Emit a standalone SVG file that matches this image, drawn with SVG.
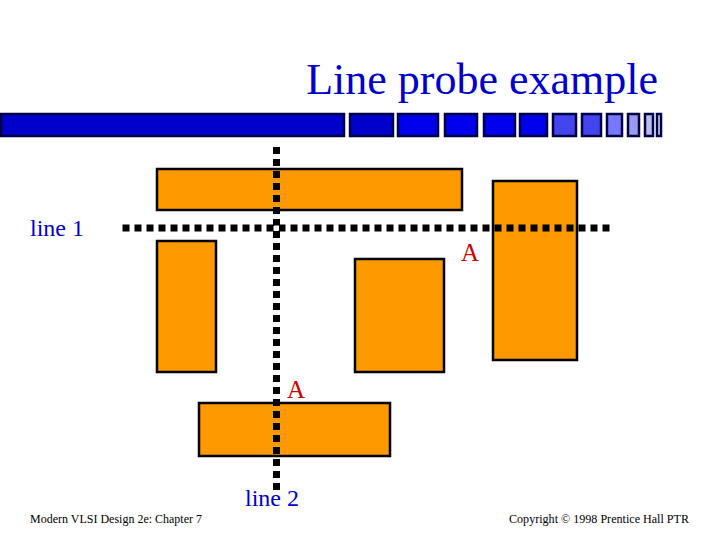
<svg xmlns="http://www.w3.org/2000/svg" width="720" height="540" viewBox="0 0 720 540">
<style>
text{font-family:"Liberation Serif","Times New Roman",serif}
.b{stroke:#000044;stroke-width:2.500}
.d{fill:#0000cc}.e{fill:#0000ee}.f{fill:#4444ee}.g{fill:#7777ff}.h{fill:#9999ee}.i{fill:#bbbbee}.j{fill:#ddddee}
.o{fill:#ff9900;stroke:#000;stroke-width:2.500}
.p{fill:none;stroke:#000;stroke-width:7;stroke-dasharray:7 5}
.blue{fill:#0000cc}.red{fill:#cc0000}
.s{font-size:12px;fill:#000}
</style>
<rect width="720" height="540" fill="#fff"/>
<text x="658" y="94" text-anchor="end" font-size="44" class="blue" id="title">Line probe example</text>
<g id="bar">
<rect class="b d" x="1" y="114" width="343" height="22"/>
<rect class="b d" x="350" y="114" width="43" height="22"/>
<rect class="b e" x="398" y="114" width="40" height="22"/>
<rect class="b e" x="445" y="114" width="32" height="22"/>
<rect class="b e" x="484" y="114" width="31" height="22"/>
<rect class="b e" x="520" y="114" width="27" height="22"/>
<rect class="b f" x="553" y="114" width="23" height="22"/>
<rect class="b f" x="582" y="114" width="19" height="22"/>
<rect class="b g" x="607" y="114" width="15" height="22"/>
<rect class="b h" x="628" y="114" width="11" height="22"/>
<rect class="b i" x="645" y="114" width="8" height="22"/>
<rect class="b j" x="657" y="114" width="4" height="22"/>
</g>
<g id="rect-top"><rect class="o" x="157" y="169" width="305" height="41"/></g>
<g id="rect-left"><rect class="o" x="157" y="241" width="59" height="131"/></g>
<g id="rect-middle"><rect class="o" x="355" y="259" width="89" height="113"/></g>
<g id="rect-right"><rect class="o" x="493" y="181" width="84" height="179"/></g>
<g id="rect-bottom"><rect class="o" x="199" y="403" width="191" height="53"/></g>
<g id="connectors">
<line id="line-1" class="p" x1="122.500" y1="228" x2="610" y2="228"/>
<line id="line-2" class="p" x1="276.500" y1="147" x2="276.500" y2="490"/>
<rect x="274" y="225.500" width="5" height="5" fill="#fff"/>
</g>
<text x="30" y="236" font-size="24" class="blue" id="label-line1">line 1</text>
<text x="461" y="261" font-size="25" class="red" id="label-a1">A</text>
<text x="287" y="398" font-size="25" class="red" id="label-a2">A</text>
<text x="245" y="506" font-size="24" class="blue" id="label-line2">line 2</text>
<text x="30" y="522.500" class="s" id="footer-left" textLength="172" lengthAdjust="spacingAndGlyphs">Modern VLSI Design 2e: Chapter 7</text>
<text x="509" y="522.500" class="s" id="footer-right" textLength="180" lengthAdjust="spacingAndGlyphs">Copyright © 1998 Prentice Hall PTR</text>
</svg>
